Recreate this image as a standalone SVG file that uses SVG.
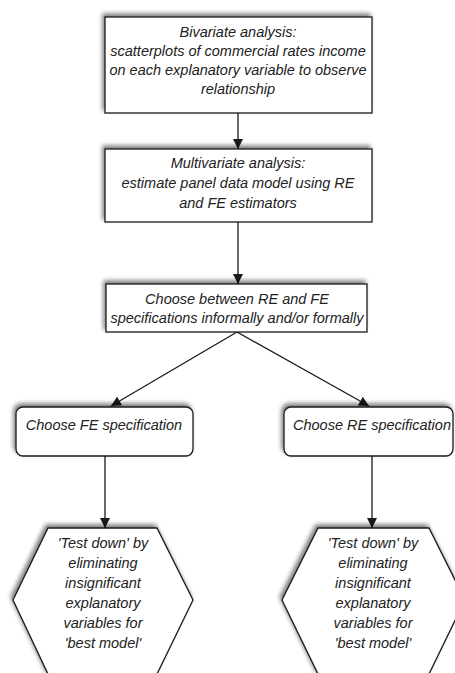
<svg xmlns="http://www.w3.org/2000/svg" width="455" height="673" viewBox="0 0 455 673">
  <defs>
    <filter id="shadow" x="-10%" y="-20%" width="120%" height="140%">
      <feGaussianBlur in="SourceAlpha" stdDeviation="2.2"/>
      <feOffset dx="-2" dy="-3" result="blur"/>
      <feFlood flood-color="#000" flood-opacity="0.5"/>
      <feComposite in2="blur" operator="in"/>
      <feMerge>
        <feMergeNode/>
        <feMergeNode in="SourceGraphic"/>
      </feMerge>
    </filter>
    <marker id="arrow" viewBox="0 0 10 10" refX="10" refY="5" markerWidth="10" markerHeight="10" markerUnits="userSpaceOnUse" orient="auto">
      <path d="M0,0 L10,5 L0,10 Z" fill="#1a1a1a"/>
    </marker>
  </defs>
  <style>
    .box { fill: #fff; stroke: #1a1a1a; stroke-width: 1.3; filter: url(#shadow); }
    .lbl { font-family: "Liberation Sans", Arial, sans-serif; font-style: italic; font-size: 14.5px; fill: #222; text-anchor: middle; }
    .edge { stroke: #1a1a1a; stroke-width: 1.3; fill: none; marker-end: url(#arrow); }
  </style>

  <rect width="455" height="673" fill="#fff"/>

  <g id="connectors">
    <line class="edge" x1="238" y1="113" x2="238" y2="149"/>
    <line class="edge" x1="238" y1="222" x2="238" y2="284"/>
    <line class="edge" x1="237" y1="332" x2="111" y2="406"/>
    <line class="edge" x1="237" y1="332" x2="369" y2="406"/>
    <line class="edge" x1="105" y1="456" x2="105" y2="528"/>
    <line class="edge" x1="372" y1="456" x2="372" y2="528"/>
  </g>

  <g id="bivariate">
    <rect class="box" x="105" y="17" width="267" height="96"/>
    <text class="lbl" x="238" y="37">Bivariate analysis:</text>
    <text class="lbl" x="238" y="56">scatterplots of commercial rates income</text>
    <text class="lbl" x="238" y="75">on each explanatory variable to observe</text>
    <text class="lbl" x="238" y="94">relationship</text>
  </g>

  <g id="multivariate">
    <rect class="box" x="105" y="149" width="267" height="73"/>
    <text class="lbl" x="238" y="168">Multivariate analysis:</text>
    <text class="lbl" x="238" y="188">estimate panel data model using RE</text>
    <text class="lbl" x="238" y="208">and FE estimators</text>
  </g>

  <g id="choose-between">
    <rect class="box" x="106" y="284" width="261" height="48"/>
    <text class="lbl" x="237" y="304">Choose between RE and FE</text>
    <text class="lbl" x="237" y="323">specifications informally and/or formally</text>
  </g>

  <g id="choose-fe">
    <rect class="box" x="16" y="407" width="177" height="49" rx="7"/>
    <text class="lbl" x="104" y="430">Choose FE specification</text>
  </g>

  <g id="choose-re">
    <rect class="box" x="284" y="407" width="169" height="49" rx="7"/>
    <text class="lbl" x="372" y="430">Choose RE specification</text>
  </g>

  <g id="test-down-fe">
    <polygon class="box" points="48,528 157,528 193,600 157,674 48,674 13,600"/>
    <text class="lbl" x="103" y="548">'Test down' by</text>
    <text class="lbl" x="103" y="568">eliminating</text>
    <text class="lbl" x="103" y="588">insignificant</text>
    <text class="lbl" x="103" y="608">explanatory</text>
    <text class="lbl" x="103" y="628">variables for</text>
    <text class="lbl" x="103" y="648">'best model'</text>
  </g>

  <g id="test-down-re">
    <polygon class="box" points="318,528 429,528 465,600 429,674 318,674 282,600"/>
    <text class="lbl" x="373" y="548">'Test down' by</text>
    <text class="lbl" x="373" y="568">eliminating</text>
    <text class="lbl" x="373" y="588">insignificant</text>
    <text class="lbl" x="373" y="608">explanatory</text>
    <text class="lbl" x="373" y="628">variables for</text>
    <text class="lbl" x="373" y="648">'best model'</text>
  </g>
</svg>
